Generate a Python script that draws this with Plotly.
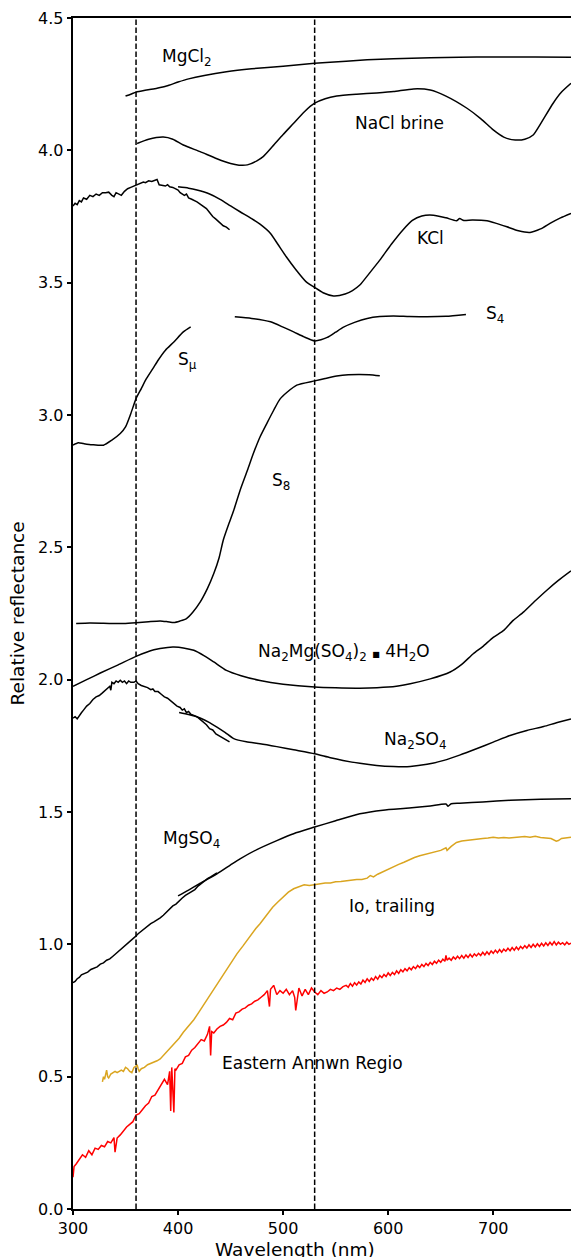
import plotly.graph_objects as go

# ---------------- data ----------------
mgcl2_x = [350, 355, 360, 370, 380, 389, 400, 410, 425, 446, 470, 500, 530, 560, 580, 605, 640, 668, 700, 740, 774]
mgcl2_y = [4.205, 4.212, 4.22, 4.228, 4.235, 4.243, 4.258, 4.27, 4.283, 4.297, 4.308, 4.318, 4.329, 4.337, 4.342, 4.346, 4.35, 4.352, 4.353, 4.353, 4.352]

nacl_x = [361, 372, 386, 395, 405, 421, 437, 450, 458, 466, 475, 481, 490, 500, 510, 520, 530, 540, 551, 570, 589, 605, 624, 640, 655, 675, 688, 700, 710, 721, 730, 738, 745, 757, 765, 774]
nacl_y = [4.026, 4.042, 4.050, 4.042, 4.02, 3.995, 3.968, 3.95, 3.944, 3.945, 3.96, 3.976, 4.015, 4.06, 4.102, 4.145, 4.178, 4.195, 4.205, 4.212, 4.217, 4.222, 4.232, 4.228, 4.205, 4.159, 4.12, 4.077, 4.05, 4.039, 4.042, 4.058, 4.10, 4.178, 4.22, 4.253]

kcl_uv_x = [300, 302, 304, 306, 308, 310, 313, 316, 319, 322, 325, 328, 331, 334, 337, 339, 341, 344, 346, 349, 352, 355, 358, 361, 364, 367, 369, 372, 375, 378, 380, 382, 385, 388, 390, 392, 395, 398, 400, 402, 404, 406, 408, 410, 413, 416, 418, 420, 423, 425, 427, 430, 433, 436, 440, 443, 446, 449]
kcl_uv_y = [3.79, 3.80, 3.795, 3.81, 3.805, 3.82, 3.815, 3.83, 3.825, 3.835, 3.83, 3.84, 3.84, 3.842, 3.83, 3.825, 3.84, 3.835, 3.83, 3.845, 3.855, 3.86, 3.865, 3.87, 3.875, 3.88, 3.878, 3.885, 3.882, 3.888, 3.89, 3.87, 3.868, 3.865, 3.87, 3.862, 3.86, 3.855, 3.85, 3.84, 3.835, 3.83, 3.835, 3.82, 3.815, 3.81, 3.805, 3.80, 3.79, 3.785, 3.78, 3.765, 3.75, 3.74, 3.725, 3.715, 3.71, 3.70]

kcl_x = [400, 410, 418, 430, 440, 450, 459, 470, 478, 488, 495, 503, 512, 522, 530, 538, 548, 559, 566, 573, 582, 592, 603, 614, 623, 632, 643, 655, 665, 668, 672, 680, 694, 703, 713, 724, 735, 745, 754, 764, 774]
kcl_y = [3.862, 3.857, 3.850, 3.835, 3.815, 3.79, 3.768, 3.742, 3.721, 3.686, 3.645, 3.598, 3.55, 3.503, 3.482, 3.462, 3.450, 3.457, 3.47, 3.491, 3.535, 3.585, 3.645, 3.699, 3.735, 3.752, 3.755, 3.745, 3.734, 3.742, 3.735, 3.737, 3.734, 3.724, 3.711, 3.696, 3.690, 3.703, 3.724, 3.745, 3.762]

s4_x = [454, 470, 488, 500, 510, 520, 530, 536, 542, 550, 557, 568, 580, 592, 605, 620, 637, 655, 674]
s4_y = [3.371, 3.365, 3.352, 3.332, 3.314, 3.295, 3.280, 3.284, 3.293, 3.313, 3.331, 3.35, 3.365, 3.372, 3.374, 3.372, 3.371, 3.373, 3.380]

smu_x = [300, 305, 310, 318, 329, 337, 345, 350, 355, 360, 365, 370, 376, 381, 388, 396, 405, 412]
smu_y = [2.886, 2.895, 2.892, 2.888, 2.886, 2.905, 2.930, 2.955, 3.005, 3.062, 3.10, 3.138, 3.175, 3.207, 3.245, 3.276, 3.314, 3.333]

s8_x = [303, 316, 329, 340, 348, 360, 372, 383, 390, 396, 402, 408, 414, 421, 428, 434, 439, 443, 448, 453, 459, 466, 472, 478, 485, 491, 497, 504, 513, 530, 540, 551, 562, 573, 582, 592]
s8_y = [2.212, 2.214, 2.213, 2.212, 2.212, 2.215, 2.219, 2.222, 2.219, 2.216, 2.222, 2.231, 2.255, 2.293, 2.345, 2.401, 2.46, 2.527, 2.585, 2.640, 2.715, 2.791, 2.858, 2.917, 2.972, 3.018, 3.06, 3.087, 3.113, 3.129, 3.138, 3.147, 3.152, 3.153, 3.152, 3.148]

namg_x = [300, 313, 326, 343, 360, 377, 390, 396, 405, 415, 425, 434, 446, 460, 478, 500, 530, 550, 573, 600, 621, 640, 659, 670, 681, 690, 700, 710, 719, 729, 740, 751, 762, 774]
namg_y = [1.975, 2.0, 2.025, 2.056, 2.088, 2.113, 2.122, 2.123, 2.12, 2.111, 2.09, 2.067, 2.035, 2.015, 1.997, 1.983, 1.972, 1.969, 1.968, 1.972, 1.985, 2.003, 2.029, 2.058, 2.098, 2.125, 2.16, 2.186, 2.224, 2.256, 2.298, 2.338, 2.375, 2.411]

na2so4_uv_x = [300, 302, 304, 306, 308, 310, 313, 316, 319, 322, 325, 328, 331, 333, 335, 336, 337, 339, 341, 343, 345, 347, 349, 351, 353, 355, 358, 360, 362, 365, 368, 371, 374, 376, 378, 381, 384, 387, 390, 393, 396, 399, 402, 404, 406, 408, 410, 412, 415, 418, 421, 424, 427, 430, 433, 436, 438, 441, 443, 445, 447, 449]
na2so4_uv_y = [1.855, 1.86, 1.852, 1.865, 1.875, 1.885, 1.90, 1.91, 1.925, 1.935, 1.94, 1.95, 1.96, 1.965, 1.975, 1.96, 1.99, 1.985, 1.995, 1.99, 1.998, 1.99, 1.995, 1.985, 1.995, 1.99, 1.99, 1.995, 1.985, 1.978, 1.975, 1.97, 1.962, 1.965, 1.955, 1.955, 1.945, 1.935, 1.93, 1.92, 1.91, 1.90, 1.895, 1.885, 1.89, 1.875, 1.88, 1.87, 1.865, 1.86, 1.85, 1.84, 1.83, 1.815, 1.81, 1.795, 1.79, 1.785, 1.78, 1.775, 1.77, 1.765]

na2so4_x = [401, 410, 421, 430, 437, 445, 453, 465, 478, 494, 510, 530, 545, 557, 573, 589, 605, 621, 637, 653, 668, 684, 700, 716, 732, 748, 761, 774]
na2so4_y = [1.876, 1.868, 1.855, 1.838, 1.821, 1.80, 1.777, 1.765, 1.758, 1.747, 1.735, 1.720, 1.705, 1.695, 1.684, 1.676, 1.672, 1.672, 1.68, 1.695, 1.715, 1.739, 1.764, 1.789, 1.808, 1.823, 1.838, 1.851]

mgso4_uv_x = [300, 302, 304, 306, 308, 311, 314, 317, 320, 323, 326, 329, 332, 335, 338, 341, 344, 347, 350, 353, 356, 359, 362, 365, 368, 371, 374, 377, 380, 383, 386, 389, 392, 395, 398, 401, 404, 407, 410, 413, 416, 419, 422, 425, 428, 431, 434, 437]
mgso4_uv_y = [0.855, 0.86, 0.87, 0.875, 0.885, 0.89, 0.895, 0.905, 0.91, 0.915, 0.925, 0.93, 0.94, 0.945, 0.955, 0.965, 0.975, 0.985, 0.995, 1.005, 1.018, 1.028, 1.04, 1.05, 1.06, 1.068, 1.078, 1.085, 1.092, 1.10, 1.11, 1.122, 1.13, 1.145, 1.152, 1.165, 1.175, 1.185, 1.192, 1.198, 1.207, 1.22, 1.23, 1.24, 1.248, 1.255, 1.262, 1.27]

mgso4_x = [400, 410, 420, 437, 450, 459, 475, 494, 510, 530, 550, 573, 595, 620, 640, 655, 657, 660, 668, 690, 716, 745, 774]
mgso4_y = [1.183, 1.205, 1.228, 1.266, 1.30, 1.323, 1.358, 1.392, 1.418, 1.443, 1.467, 1.493, 1.507, 1.515, 1.523, 1.53, 1.522, 1.531, 1.533, 1.538, 1.544, 1.548, 1.550]

io_x = [328, 329, 330, 331, 332, 333, 334, 336, 338, 340, 342, 344, 346, 348, 350, 352, 354, 356, 358, 360, 361, 362, 363, 365, 368, 371, 374, 377, 380, 383, 386, 389, 392, 395, 398, 401, 405, 410, 415, 420, 425, 430, 434, 436, 440, 445, 450, 456, 462, 468, 474, 478, 484, 490, 495, 500, 505, 510, 515, 520, 525, 530, 535, 540, 545, 550, 555, 560, 565, 570, 575, 580, 583, 586, 590, 595, 600, 605, 610, 615, 620, 625, 630, 635, 640, 645, 650, 655, 656, 660, 665, 670, 675, 680, 685, 690, 695, 700, 705, 710, 715, 720, 725, 730, 735, 740, 745, 750, 755, 760, 762, 765, 770, 774]
io_y = [0.48, 0.50, 0.49, 0.51, 0.525, 0.50, 0.495, 0.51, 0.515, 0.52, 0.515, 0.52, 0.525, 0.52, 0.535, 0.53, 0.52, 0.515, 0.535, 0.54, 0.545, 0.53, 0.52, 0.53, 0.535, 0.545, 0.55, 0.552, 0.56, 0.567, 0.58, 0.592, 0.605, 0.615, 0.628, 0.645, 0.668, 0.69, 0.715, 0.745, 0.775, 0.808, 0.83, 0.845, 0.87, 0.9, 0.93, 0.964, 0.995, 1.03, 1.06, 1.078, 1.11, 1.14, 1.16, 1.18, 1.197, 1.21, 1.218, 1.225, 1.222, 1.225, 1.23, 1.232, 1.232, 1.236, 1.237, 1.24, 1.242, 1.245, 1.245, 1.25, 1.26, 1.255, 1.265, 1.275, 1.285, 1.293, 1.302, 1.31, 1.32, 1.328, 1.335, 1.34, 1.345, 1.35, 1.355, 1.365, 1.355, 1.37, 1.385, 1.39, 1.393, 1.395, 1.398, 1.40, 1.402, 1.405, 1.402, 1.404, 1.402, 1.403, 1.405, 1.407, 1.405, 1.408, 1.404, 1.403, 1.40, 1.39, 1.392, 1.40, 1.403, 1.405]

ear_x = [300, 301, 303, 306, 309, 312, 315, 318, 321, 324, 327, 330, 333, 336, 339, 340, 342, 345, 348, 351, 354, 357, 360, 363, 366, 369, 372, 375, 378, 381, 384, 387, 390, 392, 393, 394, 396, 397, 398, 401, 404, 407, 410, 413, 416, 419, 422, 425, 428, 430, 431, 432, 434, 437, 440, 443, 446, 449, 452, 455, 458, 461, 464, 467, 470, 473, 476, 479, 482, 485, 487, 488, 491, 494, 497, 500, 503, 506, 509, 511, 512, 515, 518, 521, 524, 527, 530, 533, 536, 539, 542, 545, 548, 551, 554, 557, 560, 562, 564, 566, 568, 570, 572, 574, 576, 578, 580, 582, 584, 586, 588, 590, 592, 594, 596, 598, 600, 602, 604, 606, 608, 610, 612, 614, 616, 618, 620, 622, 624, 626, 628, 630, 632, 634, 636, 638, 640, 642, 644, 646, 648, 650, 652, 654, 655, 656, 658, 660, 662, 664, 666, 668, 670, 672, 674, 676, 678, 680, 682, 684, 686, 688, 690, 692, 694, 696, 698, 700, 702, 704, 706, 708, 710, 712, 714, 716, 718, 720, 722, 724, 726, 728, 730, 732, 734, 736, 738, 740, 742, 744, 746, 748, 750, 752, 754, 756, 758, 760, 762, 764, 766, 768, 770, 772, 774]
ear_y = [0.12, 0.16, 0.17, 0.19, 0.205, 0.195, 0.22, 0.205, 0.23, 0.225, 0.24, 0.235, 0.255, 0.25, 0.27, 0.215, 0.268, 0.28, 0.295, 0.31, 0.32, 0.33, 0.355, 0.36, 0.375, 0.39, 0.40, 0.425, 0.43, 0.45, 0.465, 0.49, 0.47, 0.52, 0.37, 0.535, 0.365, 0.53, 0.525, 0.545, 0.55, 0.575, 0.58, 0.60, 0.61, 0.625, 0.64, 0.635, 0.66, 0.69, 0.58, 0.67, 0.665, 0.68, 0.69, 0.695, 0.705, 0.72, 0.715, 0.74, 0.745, 0.755, 0.76, 0.77, 0.775, 0.785, 0.79, 0.80, 0.81, 0.825, 0.765, 0.83, 0.845, 0.81, 0.825, 0.815, 0.83, 0.81, 0.825, 0.80, 0.75, 0.835, 0.805, 0.83, 0.81, 0.835, 0.82, 0.81, 0.825, 0.815, 0.82, 0.83, 0.825, 0.835, 0.83, 0.84, 0.845, 0.838, 0.852, 0.842, 0.855, 0.846, 0.858, 0.85, 0.865, 0.856, 0.87, 0.86, 0.872, 0.864, 0.878, 0.868, 0.882, 0.874, 0.886, 0.878, 0.892, 0.882, 0.894, 0.886, 0.9, 0.89, 0.904, 0.896, 0.908, 0.9, 0.912, 0.904, 0.916, 0.908, 0.92, 0.912, 0.924, 0.916, 0.928, 0.92, 0.932, 0.924, 0.936, 0.928, 0.94, 0.932, 0.944, 0.936, 0.958, 0.94, 0.948, 0.94, 0.952, 0.944, 0.955, 0.946, 0.958, 0.948, 0.96, 0.95, 0.962, 0.952, 0.964, 0.956, 0.966, 0.958, 0.97, 0.96, 0.972, 0.962, 0.975, 0.966, 0.978, 0.968, 0.98, 0.97, 0.982, 0.974, 0.985, 0.976, 0.988, 0.978, 0.99, 0.98, 0.992, 0.984, 0.995, 0.986, 0.998, 0.988, 1.0, 0.99, 1.002, 0.992, 1.004, 0.994, 1.006, 0.996, 1.008, 0.998, 1.01, 0.998, 1.008, 1.0, 1.006, 0.998, 1.008, 1.0, 1.005]

# label texts and their anchor positions (data coords)
labels = ["MgCl<sub>2</sub>", "NaCl brine", "KCl", "S<sub>4</sub>", "S<sub>μ</sub>", "S<sub>8</sub>",
          "Na<sub>2</sub>Mg(SO<sub>4</sub>)<sub>2</sub> <span style=\"font-size:8px\">■</span> 4H<sub>2</sub>O",
          "Na<sub>2</sub>SO<sub>4</sub>",
          "MgSO<sub>4</sub>", "Io, trailing", "Eastern Annwn Regio"]
label_x = [384, 567, 626, 692, 399, 488, 475, 595, 385, 562, 441]
label_y = [4.349, 4.103, 3.667, 3.379, 3.207, 2.747, 2.104, 1.771, 1.396, 1.143, 0.551]

dashed_x = [360, 530]
y_ticks = [0.0, 0.5, 1.0, 1.5, 2.0, 2.5, 3.0, 3.5, 4.0, 4.5]
x_ticks = [300, 400, 500, 600, 700]

FONT = "DejaVu Sans"
fig = go.Figure()

def add(x, y, color="black", smooth=False):
    fig.add_trace(go.Scatter(x=x, y=y, mode="lines",
                             line=dict(color=color, width=1.5,
                                       shape="spline" if smooth else "linear",
                                       smoothing=0.6 if smooth else None),
                             showlegend=False, hoverinfo="skip"))

add(mgcl2_x, mgcl2_y, smooth=True)
add(nacl_x, nacl_y, smooth=True)
add(kcl_uv_x, kcl_uv_y)
add(kcl_x, kcl_y, smooth=True)
add(s4_x, s4_y, smooth=True)
add(smu_x, smu_y, smooth=True)
add(s8_x, s8_y, smooth=True)
add(namg_x, namg_y, smooth=True)
add(na2so4_uv_x, na2so4_uv_y)
add(na2so4_x, na2so4_y, smooth=True)
add(mgso4_uv_x, mgso4_uv_y)
add(mgso4_x, mgso4_y, smooth=True)
add(io_x, io_y, color="#DAA520")
add(ear_x, ear_y, color="#FF0000")

for xv in dashed_x:
    fig.add_shape(type="line", x0=xv, x1=xv, y0=0, y1=1, xref="x", yref="paper",
                  line=dict(color="black", width=1.5, dash="5.5px,2.5px"))

for t, xv, yv in zip(labels, label_x, label_y):
    fig.add_annotation(x=xv, y=yv, text=t, showarrow=False, xanchor="left", yanchor="middle",
                       font=dict(family=FONT, size=17, color="black"), borderpad=0)

fig.add_annotation(x=0.4458, y=-0.0336, xref="paper", yref="paper", text="Wavelength (nm)",
                   showarrow=False, xanchor="center", yanchor="middle",
                   font=dict(family=FONT, size=18.5, color="black"))
fig.add_annotation(x=-0.1105, y=0.5, xref="paper", yref="paper", text="Relative reflectance",
                   showarrow=False, textangle=-90, xanchor="center", yanchor="middle",
                   font=dict(family=FONT, size=18.5, color="black"))

fig.update_layout(
    width=571, height=1257,
    margin=dict(l=73, r=0, t=18, b=48, autoexpand=False),
    paper_bgcolor="white", plot_bgcolor="white",
    font=dict(family=FONT, color="black"),
    xaxis=dict(range=[300, 774], tickvals=x_ticks, ticktext=[str(v) for v in x_ticks],
               showgrid=False, zeroline=False, showline=True, linecolor="black", linewidth=1.5,
               mirror=True, ticks="outside", ticklen=4.5, tickwidth=1.5, tickcolor="black",
               tickfont=dict(family=FONT, size=16, color="black")),
    yaxis=dict(range=[0, 4.5], tickvals=y_ticks, ticktext=[f"{v:.1f}" for v in y_ticks],
               showgrid=False, zeroline=False, showline=True, linecolor="black", linewidth=1.5,
               ticks="outside", ticklen=4.5, tickwidth=1.5, tickcolor="black",
               tickfont=dict(family=FONT, size=16, color="black")),
)

fig.write_html("out.html", config={"displayModeBar": False},
               post_script="document.body.style.margin='0';document.body.style.overflow='hidden';")
